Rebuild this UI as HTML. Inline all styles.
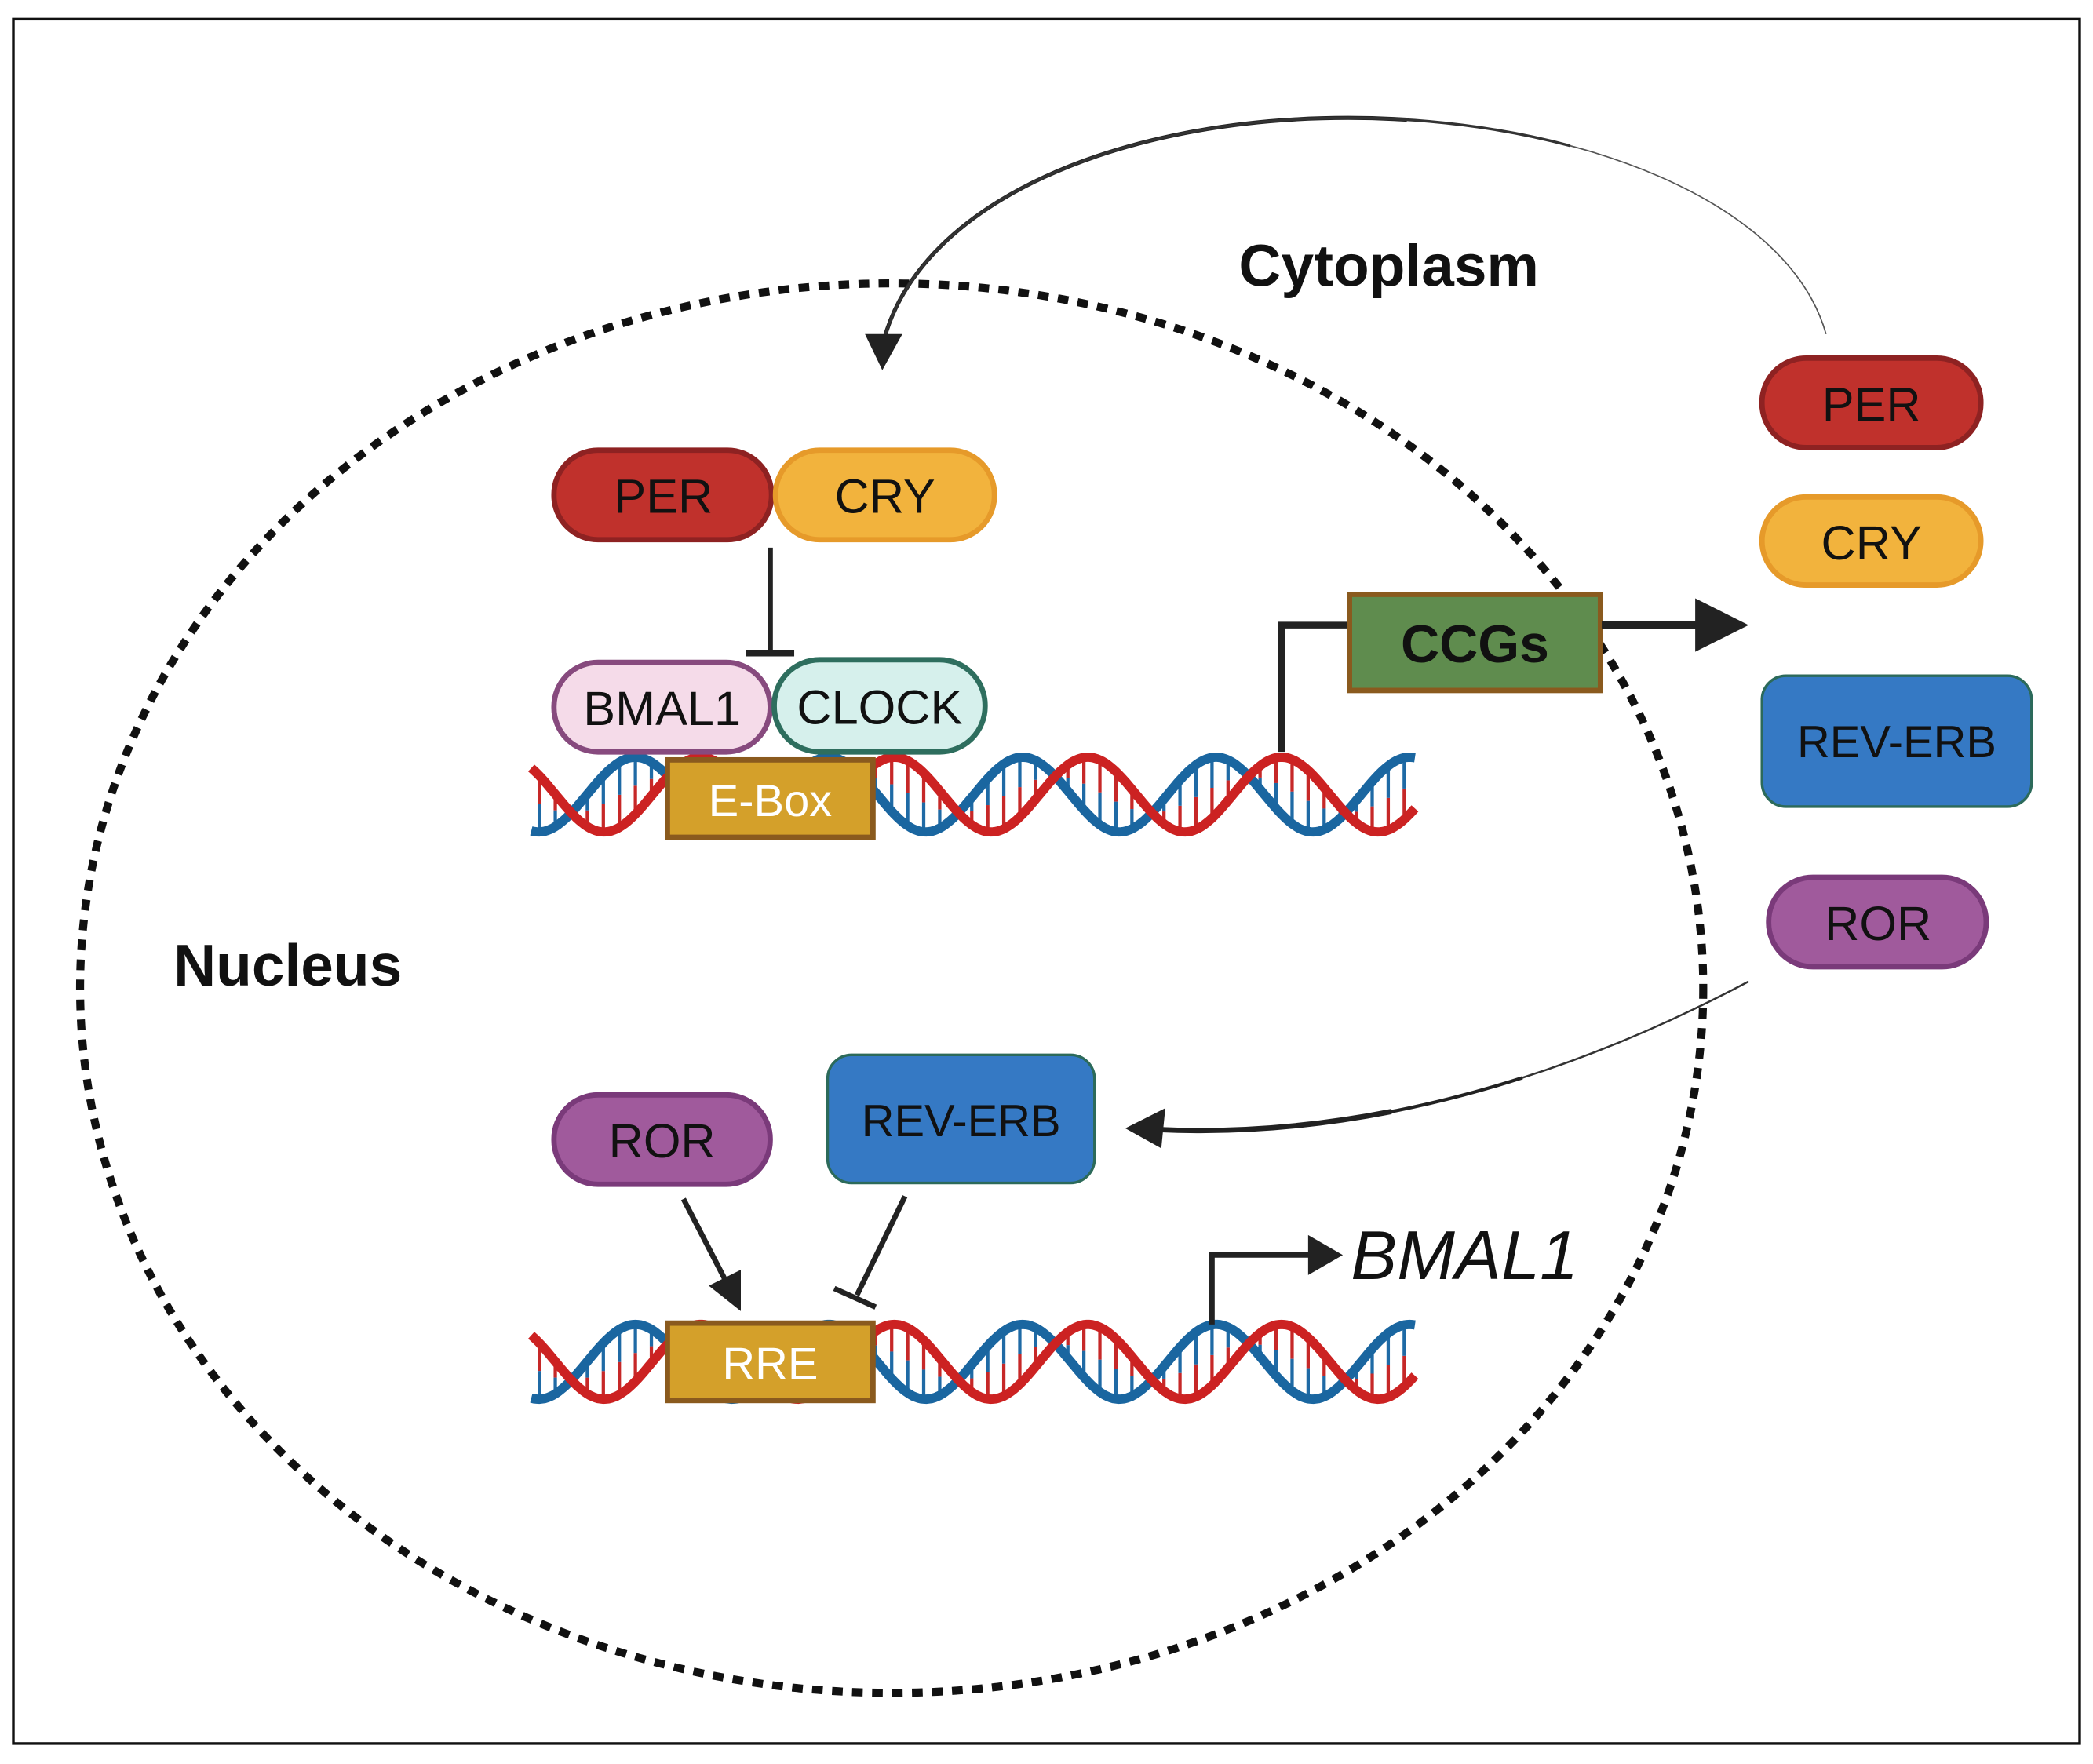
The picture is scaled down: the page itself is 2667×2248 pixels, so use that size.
<!DOCTYPE html>
<html><head><meta charset="utf-8"><style>
html,body{margin:0;padding:0;background:#fff;}
svg{display:block;}
text{font-family:"Liberation Sans",sans-serif;}
</style></head><body>
<svg id="s" width="2667" height="2248" viewBox="0 0 1568 1321" xmlns="http://www.w3.org/2000/svg">
<rect x="10" y="14" width="1548" height="1292" fill="#fff" stroke="#111" stroke-width="2"/>
<ellipse cx="668" cy="740" rx="608" ry="528" fill="none" stroke="#111" stroke-width="6" stroke-dasharray="8 7"/>
<g id="dna1"></g><g id="dna2"></g>
<!-- top curve arrow -->
<path d="M1368,250 C1340,150 1180,88 1010,88 C840,88 690,150 662,255" fill="none" stroke="#555" stroke-width="1"/>
<path d="M1368,250 C1340,150 1180,88 1010,88 C840,88 690,150 662,255" pathLength="100" stroke-dasharray="0 45 55" fill="none" stroke="#222" stroke-width="3"/>
<path d="M1368,250 C1340,150 1180,88 1010,88 C840,88 690,150 662,255" pathLength="100" stroke-dasharray="0 30 70" fill="none" stroke="#333" stroke-width="2"/>
<polygon points="648,250 676,250 661,277" fill="#222"/>
<text x="928" y="214" font-size="44" font-weight="bold" fill="#111">Cytoplasm</text>
<text x="130" y="738" font-size="44" font-weight="bold" fill="#111">Nucleus</text>
<!-- PER CRY -->
<rect x="415" y="337" width="163" height="67" rx="33" fill="#c0312c" stroke="#8e2222" stroke-width="4"/>
<text x="497" y="384" font-size="36" text-anchor="middle" fill="#111">PER</text>
<rect x="581" y="337" width="164" height="67" rx="33" fill="#f2b33d" stroke="#e69a2a" stroke-width="4"/>
<text x="663" y="384" font-size="36" text-anchor="middle" fill="#111">CRY</text>
<line x1="577" y1="410" x2="577" y2="488" stroke="#222" stroke-width="4"/>
<line x1="559" y1="489" x2="595" y2="489" stroke="#222" stroke-width="5"/>
<rect x="415" y="496" width="162" height="67" rx="33" fill="#f5dbe9" stroke="#874a7e" stroke-width="4"/>
<text x="496" y="543" font-size="36" text-anchor="middle" fill="#111">BMAL1</text>
<rect x="580" y="494" width="158" height="69" rx="34" fill="#d6f0ec" stroke="#2e6e5e" stroke-width="4"/>
<text x="659" y="542" font-size="36" text-anchor="middle" fill="#111">CLOCK</text>
<rect x="500" y="569" width="154" height="58" fill="#d4a02a" stroke="#8a5a1e" stroke-width="4"/>
<text x="577" y="611" font-size="34" text-anchor="middle" fill="#fff">E-Box</text>
<!-- CCGs -->
<path d="M960,563 V468 H1012" fill="none" stroke="#222" stroke-width="5"/>
<rect x="1011" y="445" width="188" height="72" fill="#5f8c4e" stroke="#8a5a1e" stroke-width="4"/>
<text x="1105" y="496" font-size="40" font-weight="bold" text-anchor="middle" fill="#111">CCGs</text>
<line x1="1200" y1="468" x2="1275" y2="468" stroke="#222" stroke-width="6"/>
<polygon points="1270,448 1310,468 1270,488" fill="#222"/>
<!-- right column -->
<rect x="1320" y="268" width="164" height="67" rx="33" fill="#c0312c" stroke="#8e2222" stroke-width="4"/>
<text x="1402" y="315" font-size="36" text-anchor="middle" fill="#111">PER</text>
<rect x="1320" y="372" width="164" height="66" rx="33" fill="#f2b33d" stroke="#e69a2a" stroke-width="4"/>
<text x="1402" y="419" font-size="36" text-anchor="middle" fill="#111">CRY</text>
<rect x="1320" y="506" width="202" height="98" rx="18" fill="#3579c4" stroke="#2c6a5a" stroke-width="2"/>
<text x="1421" y="567" font-size="34" text-anchor="middle" fill="#111">REV-ERB</text>
<rect x="1325" y="657" width="163" height="67" rx="33" fill="#a05a9c" stroke="#7a3a7a" stroke-width="4"/>
<text x="1407" y="704" font-size="36" text-anchor="middle" fill="#111">ROR</text>
<!-- lower curve arrow -->
<path d="M1310,735 C1150,820 1000,852 868,846" fill="none" stroke="#333" stroke-width="1.5"/>
<path d="M1310,735 C1150,820 1000,852 868,846" pathLength="100" stroke-dasharray="0 40 60" fill="none" stroke="#222" stroke-width="2.5"/>
<path d="M1310,735 C1150,820 1000,852 868,846" pathLength="100" stroke-dasharray="0 62 38" fill="none" stroke="#222" stroke-width="4"/>
<polygon points="843,845 873,830 870,860" fill="#222"/>
<!-- lower nodes -->
<rect x="415" y="820" width="162" height="67" rx="33" fill="#a05a9c" stroke="#7a3a7a" stroke-width="4"/>
<text x="496" y="867" font-size="36" text-anchor="middle" fill="#111">ROR</text>
<rect x="620" y="790" width="200" height="96" rx="18" fill="#3579c4" stroke="#2c6a5a" stroke-width="2"/>
<text x="720" y="851" font-size="34" text-anchor="middle" fill="#111">REV-ERB</text>
<line x1="512" y1="898" x2="543" y2="958" stroke="#222" stroke-width="4"/>
<polygon points="531,963 555,951 555,982" fill="#222"/>
<line x1="678" y1="896" x2="642" y2="970" stroke="#222" stroke-width="4"/>
<line x1="625" y1="965" x2="656" y2="979" stroke="#222" stroke-width="4"/>
<rect x="500" y="991" width="154" height="58" fill="#d4a02a" stroke="#8a5a1e" stroke-width="4"/>
<text x="577" y="1033" font-size="34" text-anchor="middle" fill="#fff">RRE</text>
<path d="M908,992 V940 H985" fill="none" stroke="#222" stroke-width="4"/>
<polygon points="980,925 1006,940 980,955" fill="#222"/>
<text x="1012" y="958" font-size="52" font-style="italic" fill="#111">BMAL1</text>
</svg>
<script>
function dna(g,cy,skip){
 var x0=398,x1=1060,P=145,A=28;
 function y(x,ph){return cy-A*Math.cos(2*Math.PI*(x-ph)/P);}
 var h="";
 for(var x=x0+6;x<x1;x+=12){ if(x>skip[0]&&x<skip[1])continue;
  var a=y(x,815),b=y(x,766),m=(a+b)/2;
  h+='<line x1="'+x+'" y1="'+a+'" x2="'+x+'" y2="'+m+'" stroke="#c62828" stroke-width="2.5"/>';
  h+='<line x1="'+x+'" y1="'+m+'" x2="'+x+'" y2="'+b+'" stroke="#1f6aa5" stroke-width="2.5"/>';}
 [[766,"#1a66a0"],[815,"#cc2222"]].forEach(function(s){
  var d="";for(var x=x0;x<=x1;x+=2){d+=(x==x0?"M":"L")+x+","+y(x,s[0]).toFixed(1);}
  h+='<path d="'+d+'" fill="none" stroke="'+s[1]+'" stroke-width="7"/>';});
 g.innerHTML=h;}
dna(document.getElementById("dna1"),595,[500,654]);
dna(document.getElementById("dna2"),1020,[500,654]);
</script>
</body></html>
